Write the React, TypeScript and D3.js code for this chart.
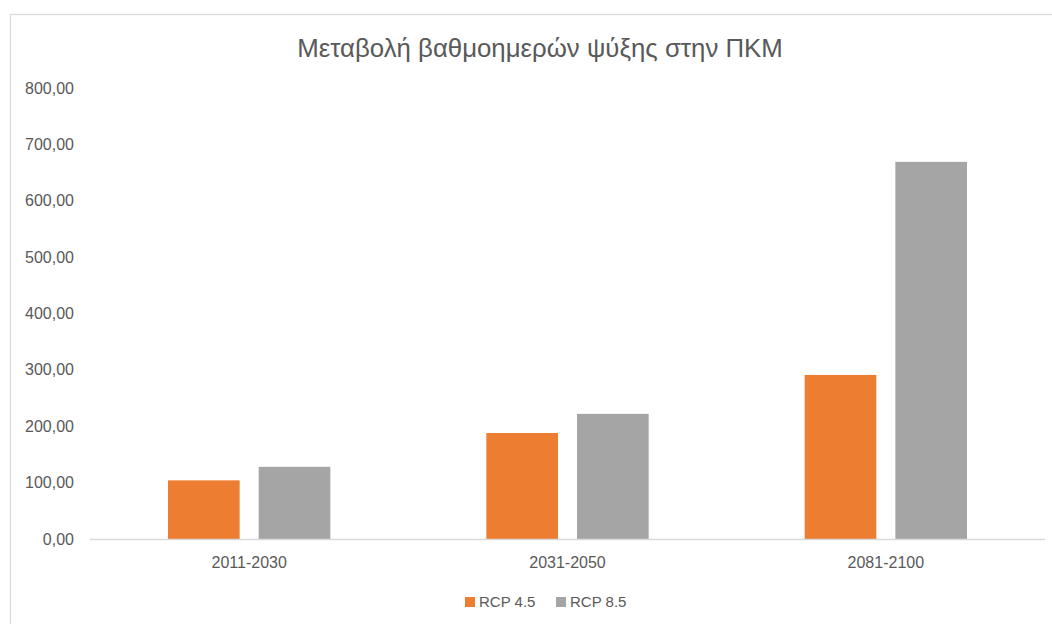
import React, { useRef, useEffect } from "react";
import * as d3 from "d3";

// chart values
const periods = ["2011-2030", "2031-2050", "2081-2100"];
const seriesNames = ["RCP 4.5", "RCP 8.5"];
const rcp45 = [104, 188, 291];
const rcp85 = [128, 222, 669];
const yTicks = [0, 100, 200, 300, 400, 500, 600, 700, 800];
const colors = ["#ED7D31", "#A5A5A5"];

const W = 1052;
const H = 624;
const FONT = "'Liberation Sans', Arial, sans-serif";

const App = () => {
	const svgRef = useRef<SVGSVGElement>(null);

	useEffect(() => {
		const svg = d3.select(svgRef.current);
		svg.selectAll("*").remove();

		// outer chart border (runs off the right and bottom edge)
		svg.append("rect")
			.attr("x", 10.5).attr("y", 14.5)
			.attr("width", W + 20).attr("height", H + 20)
			.attr("fill", "#fff")
			.attr("stroke", "#d9d9d9")
			.attr("stroke-width", 1.2);

		// title
		svg.append("text")
			.attr("x", 540).attr("y", 57)
			.attr("text-anchor", "middle")
			.attr("font-family", FONT)
			.attr("font-size", 25.8)
			.attr("fill", "#595959")
			.text("Μεταβολή βαθμοημερών ψύξης στην ΠΚΜ");

		// scales
		const y = d3.scaleLinear().domain([0, 800]).range([539, 88]);
		const x = d3.scaleBand().domain(periods).range([90, 1045]).padding(0);
		const inner = d3.scaleBand()
			.domain(seriesNames)
			.range([78, x.bandwidth() - 78])
			.paddingInner(0.21);

		// y tick labels
		svg.append("g")
			.selectAll("text")
			.data(yTicks)
			.join("text")
			.attr("x", 74)
			.attr("y", d => y(d))
			.attr("dy", "0.35em")
			.attr("text-anchor", "end")
			.attr("font-family", FONT)
			.attr("font-size", 16)
			.attr("fill", "#595959")
			.text(d => d3.format(".2f")(d).replace(".", ","));

		// bars
		const rows = periods.map((p, i) => ({ period: p, values: [rcp45[i], rcp85[i]] }));
		const groups = svg.append("g")
			.selectAll("g")
			.data(rows)
			.join("g")
			.attr("transform", d => `translate(${x(d.period)},0)`);
		groups.selectAll("rect")
			.data(d => d.values.map((v, j) => ({ name: seriesNames[j], v, j })))
			.join("rect")
			.attr("x", d => inner(d.name)!)
			.attr("width", inner.bandwidth())
			.attr("y", d => y(d.v))
			.attr("height", d => y(0) - y(d.v))
			.attr("fill", d => colors[d.j]);

		// baseline
		svg.append("line")
			.attr("x1", 90).attr("x2", 1045)
			.attr("y1", y(0) + 0.5).attr("y2", y(0) + 0.5)
			.attr("stroke", "#d9d9d9")
			.attr("stroke-width", 1.5);

		// category labels
		svg.append("g")
			.selectAll("text")
			.data(periods)
			.join("text")
			.attr("x", d => x(d)! + x.bandwidth() / 2)
			.attr("y", 568)
			.attr("text-anchor", "middle")
			.attr("font-family", FONT)
			.attr("font-size", 16)
			.attr("fill", "#595959")
			.text(d => d);

		// legend
		const legendX = [465, 556];
		const legend = svg.append("g")
			.selectAll("g")
			.data(seriesNames)
			.join("g")
			.attr("transform", (d, i) => `translate(${legendX[i]},597)`);
		legend.append("rect")
			.attr("width", 10).attr("height", 10)
			.attr("fill", (d, i) => colors[i]);
		legend.append("text")
			.attr("x", 14).attr("y", 5)
			.attr("dy", "0.35em")
			.attr("font-family", FONT)
			.attr("font-size", 15)
			.attr("fill", "#595959")
			.text(d => d);
	}, []);

	return (
		<div style={{ position: "absolute", left: 0, top: 0 }}>
			<svg ref={svgRef} width={W} height={H} style={{ display: "block" }}></svg>
		</div>
	);
};

export default App;
